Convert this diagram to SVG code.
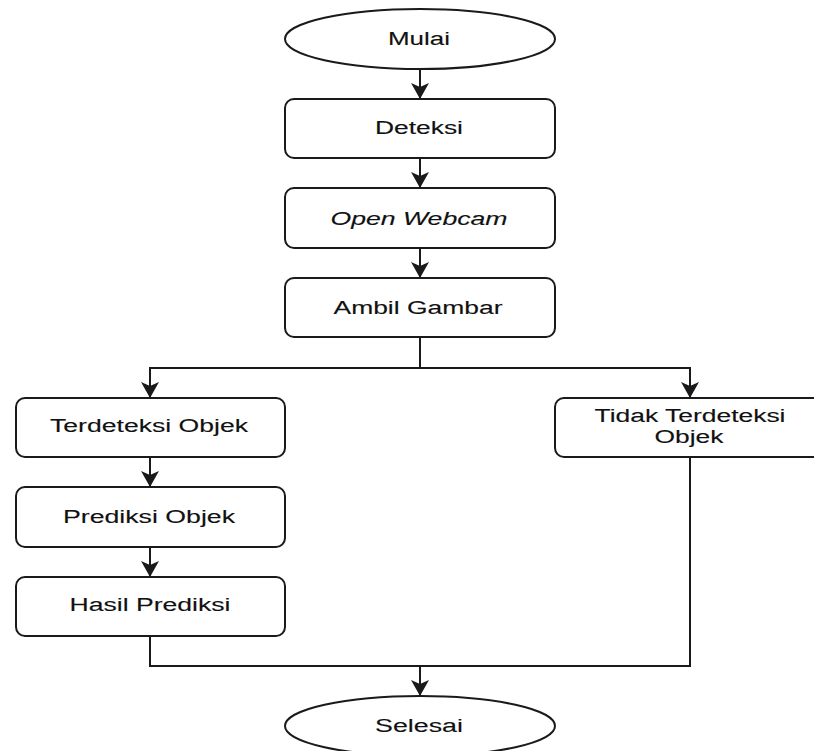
<svg xmlns="http://www.w3.org/2000/svg" width="814" height="751" viewBox="0 0 814 751">
<defs>
<style>
.n{fill:#fff;stroke:#1a1a1a;stroke-width:2}
.t{font-family:"Liberation Sans",Arial,sans-serif;font-size:18px;fill:#111;text-anchor:middle;stroke:#111;stroke-width:0.12}
.c{fill:none;stroke:#1a1a1a;stroke-width:2}
</style>
<marker id="ah" viewBox="0 0 16 18" refX="15" refY="9" markerWidth="16" markerHeight="18" markerUnits="userSpaceOnUse" orient="auto">
<path d="M0,0 L16,9 L0,18 L4,9 Z" fill="#1a1a1a"/>
</marker>
</defs>
<rect width="814" height="751" fill="#fff"/>
<g id="connectors">
<line class="c" x1="420" y1="69" x2="420" y2="98" marker-end="url(#ah)"/>
<line class="c" x1="420" y1="158" x2="420" y2="187" marker-end="url(#ah)"/>
<line class="c" x1="420" y1="248" x2="420" y2="277" marker-end="url(#ah)"/>
<polyline class="c" points="420,337 420,368 150,368 150,397" marker-end="url(#ah)"/>
<polyline class="c" points="420,368 690,368 690,397" marker-end="url(#ah)"/>
<line class="c" x1="150" y1="457" x2="150" y2="486" marker-end="url(#ah)"/>
<line class="c" x1="150" y1="547" x2="150" y2="576" marker-end="url(#ah)"/>
<polyline class="c" points="150,636 150,666 690,666 690,457"/>
<line class="c" x1="420" y1="666" x2="420" y2="695" marker-end="url(#ah)"/>
</g>
<g id="mulai">
<ellipse class="n" cx="420" cy="39" rx="135" ry="30"/>
<text class="t" x="419" y="45" textLength="62" lengthAdjust="spacingAndGlyphs">Mulai</text>
</g>
<g id="deteksi">
<rect class="n" x="285" y="99" width="270" height="59" rx="9"/>
<text class="t" x="419" y="134" textLength="88" lengthAdjust="spacingAndGlyphs">Deteksi</text>
</g>
<g id="open-webcam">
<rect class="n" x="285" y="188" width="270" height="60" rx="9"/>
<text class="t" x="419" y="225" font-style="italic" textLength="177" lengthAdjust="spacingAndGlyphs">Open Webcam</text>
</g>
<g id="ambil-gambar">
<rect class="n" x="285" y="278" width="270" height="59" rx="9"/>
<text class="t" x="418" y="314" textLength="169" lengthAdjust="spacingAndGlyphs">Ambil Gambar</text>
</g>
<g id="terdeteksi">
<rect class="n" x="16" y="398" width="269" height="59" rx="9"/>
<text class="t" x="149" y="432" textLength="198" lengthAdjust="spacingAndGlyphs">Terdeteksi Objek</text>
</g>
<g id="tidak-terdeteksi">
<rect class="n" x="555" y="398" width="270" height="59" rx="9"/>
<text class="t" x="690" y="422" textLength="191" lengthAdjust="spacingAndGlyphs">Tidak Terdeteksi</text>
<text class="t" x="689" y="443" textLength="69" lengthAdjust="spacingAndGlyphs">Objek</text>
</g>
<g id="prediksi">
<rect class="n" x="16" y="487" width="269" height="60" rx="9"/>
<text class="t" x="149" y="523" textLength="172" lengthAdjust="spacingAndGlyphs">Prediksi Objek</text>
</g>
<g id="hasil">
<rect class="n" x="16" y="577" width="269" height="59" rx="9"/>
<text class="t" x="150" y="611" textLength="161" lengthAdjust="spacingAndGlyphs">Hasil Prediksi</text>
</g>
<g id="selesai">
<ellipse class="n" cx="420" cy="726" rx="135" ry="30"/>
<text class="t" x="419" y="732" textLength="88" lengthAdjust="spacingAndGlyphs">Selesai</text>
</g>
</svg>
